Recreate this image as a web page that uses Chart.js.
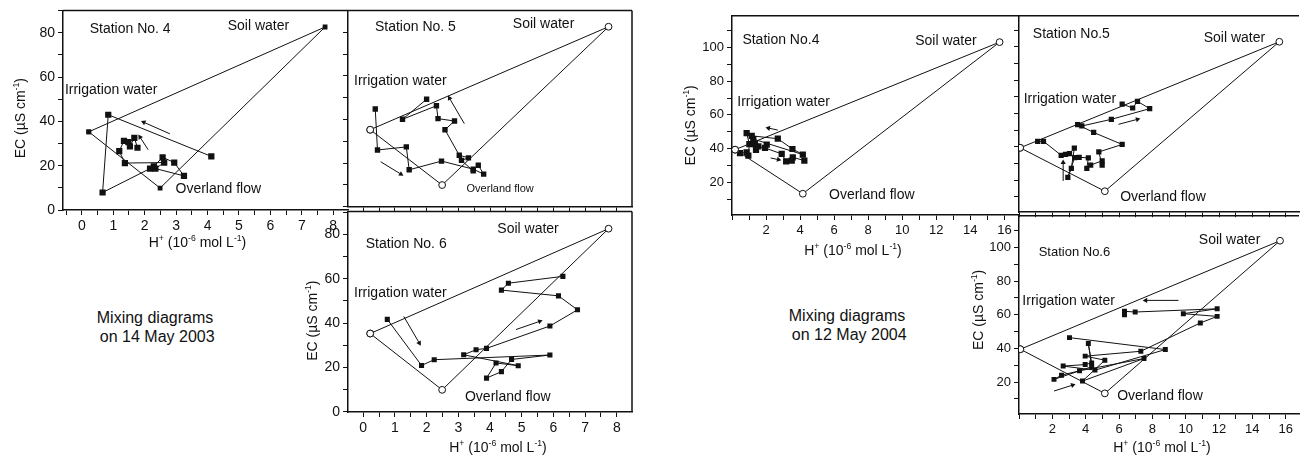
<!DOCTYPE html>
<html lang="en">
<head>
<meta charset="UTF-8">
<title>Mixing diagrams, stations 4-6</title>
<style>
  html, body { margin: 0; padding: 0; background: #fff; overflow: hidden; }
  body { width: 1304px; height: 458px; position: relative; font-family: "Liberation Sans", Arial, sans-serif; }
  canvas { position: absolute; }
  .note { position: absolute; width: 220px; font-size: 16px; line-height: 19px; text-align: center; color: #111; }
</style>
</head>
<body>
<canvas id="s4_2003"></canvas>
<canvas id="s5_2003"></canvas>
<canvas id="s6_2003"></canvas>
<canvas id="s4_2004"></canvas>
<canvas id="s5_2004"></canvas>
<canvas id="s6_2004"></canvas>
<div class="note" style="left:45px; top:308px;">Mixing diagrams<br>&nbsp;on 14 May 2003</div>
<div class="note" style="left:737px; top:306px;">Mixing diagrams<br>&nbsp;on 12 May 2004</div>

<script src="https://cdn.jsdelivr.net/npm/chart.js@4/dist/chart.umd.min.js"></script>
<script>
// ---- data: H+ (10^-6 mol/L) and EC (uS/cm) ----
// end-members, in order: irrigation water, soil water, overland flow
var em2003_h  = [0.22, 7.74, 2.49];
var em2003_ec = [35.3, 82.6, 9.9];

var em2004_s4_h  = [0.18, 15.72, 4.16];
var em2004_s4_ec = [39.4, 103.1, 13.3];
var em2004_s5_h  = [0.07, 15.62, 5.15];
var em2004_s5_ec = [39.4, 103.1, 13.3];
var em2004_s6_h  = [0.08, 15.66, 5.15];
var em2004_s6_ec = [39.5, 103.9, 13.3];

// stream samples, 14 May 2003
var s4_2003_h  = [4.12, 0.84, 0.66, 2.17, 2.29, 2.57, 2.94, 3.25, 2.34, 2.62, 1.37, 1.19, 1.34, 1.48, 1.53, 1.67, 1.77];
var s4_2003_ec = [24.2, 43.0, 7.9, 18.7, 19.7, 23.8, 21.4, 15.4, 18.7, 21.4, 21.2, 26.6, 31.2, 30.6, 28.7, 32.6, 28.1];

var s5_2003_h  = [0.38, 0.45, 1.36, 1.45, 2.47, 3.47, 3.80, 3.63, 3.47, 3.10, 3.32, 3.03, 2.58, 2.88, 2.36, 2.31, 1.24, 2.00];
var s5_2003_ec = [44.8, 26.0, 27.4, 16.9, 20.9, 17.2, 14.9, 19.0, 16.4, 21.2, 22.4, 23.6, 35.3, 39.3, 40.4, 46.3, 40.1, 49.3];

var s6_2003_h  = [0.76, 1.84, 2.24, 5.89, 4.68, 4.36, 3.89, 4.19, 4.89, 3.17, 3.56, 3.89, 5.89, 6.76, 6.16, 4.36, 4.58, 6.30];
var s6_2003_ec = [41.7, 20.9, 23.5, 25.6, 23.6, 18.1, 15.2, 22.0, 20.8, 25.7, 28.0, 28.6, 38.7, 46.0, 52.3, 54.9, 58.0, 61.1];

// stream samples, 12 May 2004
var s4_2004_h  = [0.47, 0.86, 0.96, 1.02, 0.86, 1.16, 2.69, 3.55, 4.16, 1.25, 1.35, 1.55, 1.41, 2.04, 1.94, 2.92, 3.18, 3.51, 3.57, 4.25];
var s4_2004_ec = [37.3, 37.8, 35.9, 42.7, 49.2, 47.6, 45.9, 39.8, 36.5, 45.7, 42.7, 41.4, 39.2, 42.4, 40.4, 36.9, 32.4, 32.9, 34.9, 32.9];

var s5_2004_h  = [1.12, 1.47, 2.53, 2.79, 3.03, 3.32, 3.14, 2.93, 3.34, 3.61, 4.16, 4.07, 4.30, 4.99, 4.99, 4.79, 6.19, 4.48, 3.52, 3.77, 5.54, 7.84, 7.11, 6.82, 6.19];
var s5_2004_ec = [43.3, 43.3, 34.9, 35.5, 35.9, 39.2, 27.1, 21.6, 33.5, 33.7, 33.3, 27.1, 29.0, 31.6, 29.0, 36.9, 41.4, 48.6, 53.3, 52.5, 56.5, 62.9, 67.3, 63.3, 65.7];

var s6_2004_h  = [3.03, 8.78, 4.56, 2.65, 3.97, 4.36, 4.16, 4.36, 2.10, 2.55, 3.63, 7.50, 3.81, 5.15, 3.97, 7.31, 10.88, 11.89, 9.86, 11.89, 6.97, 6.33, 6.33];
var s6_2004_ec = [46.4, 39.3, 27.1, 29.5, 30.4, 31.4, 42.9, 29.1, 21.6, 24.1, 26.7, 34.0, 20.6, 33.0, 35.4, 38.3, 55.1, 59.0, 60.6, 63.5, 61.6, 62.0, 60.0];

// flow-direction arrows: [h from, ec from, h to, ec to]
var arrows_s4_2003 = [[2.80, 34.4, 1.97, 39.6], [2.11, 27.2, 1.85, 32.9]];
var arrows_s5_2003 = [[3.19, 38.1, 2.72, 49.8], [0.55, 20.6, 1.19, 14.9]];
var arrows_s6_2003 = [[1.28, 43.0, 1.77, 31.0], [4.82, 37.1, 5.57, 40.8]];
var arrows_s4_2004 = [[2.69, 51.0, 2.14, 52.2], [2.27, 34.5, 2.73, 33.5]];
var arrows_s5_2004 = [[5.97, 53.5, 7.11, 56.5], [2.65, 19.5, 2.65, 30.5]];
var arrows_s6_2004 = [[9.57, 68.5, 7.60, 68.5], [2.10, 14.7, 3.22, 18.2]];

// tick labels
var h_labels_2003  = [0, 1, 2, 3, 4, 5, 6, 7, 8];
var ec_labels_2003 = [0, 20, 40, 60, 80];
var h_labels_2004  = [2, 4, 6, 8, 10, 12, 14, 16];
var ec_labels_2004 = [20, 40, 60, 80, 100];

// ---- drawing ----
var FONT = "'Liberation Sans', Arial, Helvetica, sans-serif";
var INK = '#111';
Chart.defaults.font.family = FONT;
Chart.defaults.color = INK;

function pts(xs, ys) {
    return xs.map(function (x, i) { return { x: x, y: ys[i] }; });
}

// every multiple of step inside [min, max]
function tickValues(min, max, step) {
    var out = [];
    for (var k = Math.ceil(min / step - 1e-9); k * step <= max + 1e-9; k++) {
        out.push(Math.round(k * step * 1000) / 1000);
    }
    return out;
}

// point the arrow head along its segment, in pixel space
function arrowAngle(c) {
    var ch = c.chart, d = c.dataset && c.dataset.data;
    if (!d || !ch.scales || !ch.scales.x || !ch.scales.y) return 0;
    var dx = ch.scales.x.getPixelForValue(d[1].x) - ch.scales.x.getPixelForValue(d[0].x);
    var dy = ch.scales.y.getPixelForValue(d[1].y) - ch.scales.y.getPixelForValue(d[0].y);
    return Math.atan2(dx, -dy) * 180 / Math.PI;
}

var X_TITLE = [{ t: 'H' }, { t: '+', sup: 1 }, { t: ' (10' }, { t: '-6', sup: 1 }, { t: ' mol L' }, { t: '-1', sup: 1 }, { t: ')' }];
var Y_TITLE = [{ t: 'EC (' }, { t: '\u00B5S cm' }, { t: '-1', sup: 1 }, { t: ')' }];

function drawRich(ctx, parts, cx, cy, size, vertical) {
    ctx.save();
    ctx.translate(cx, cy);
    if (vertical) ctx.rotate(-Math.PI / 2);
    var total = 0;
    parts.forEach(function (p) {
        ctx.font = (p.sup ? size * 0.62 : size) + 'px ' + FONT;
        total += ctx.measureText(p.t).width;
    });
    var x = -total / 2;
    ctx.textAlign = 'left';
    ctx.textBaseline = 'alphabetic';
    ctx.fillStyle = INK;
    parts.forEach(function (p) {
        ctx.font = (p.sup ? size * 0.62 : size) + 'px ' + FONT;
        ctx.fillText(p.t, x, size * 0.36 - (p.sup ? size * 0.42 : 0));
        x += ctx.measureText(p.t).width;
    });
    ctx.restore();
}

// frame lines, in-plot labels and axis titles
var panelDecor = {
    id: 'panelDecor',
    afterDraw: function (chart, args, o) {
        var ctx = chart.ctx, a = chart.chartArea;
        var sx = chart.scales.x, sy = chart.scales.y;
        ctx.save();
        ctx.strokeStyle = INK;
        ctx.lineWidth = 1.5;
        ctx.beginPath();
        ctx.moveTo(a.left, a.top);
        ctx.lineTo(a.right, a.top);
        if (o.right) {
            ctx.moveTo(a.right, a.top);
            ctx.lineTo(a.right, a.bottom);
        }
        ctx.stroke();
        ctx.fillStyle = INK;
        ctx.textAlign = 'left';
        ctx.textBaseline = 'middle';
        (o.notes || []).forEach(function (n) {
            ctx.font = n[3] + 'px ' + FONT;
            ctx.fillText(n[0], sx.getPixelForValue(n[1]), sy.getPixelForValue(n[2]));
        });
        if (o.xTitle) drawRich(ctx, X_TITLE, (a.left + a.right) / 2 + o.xTitle[0], a.bottom + o.xTitle[1], 14, false);
        if (o.yTitle) drawRich(ctx, Y_TITLE, a.left - o.yTitle[0], (a.top + a.bottom) / 2 + o.yTitle[1], 14, true);
        ctx.restore();
    }
};

function axis(min, max, step, labels, pad, horizontal, fontSize) {
    return {
        type: 'linear',
        min: min,
        max: max,
        afterBuildTicks: function (ax) {
            ax.ticks = tickValues(min, max, step).map(function (v) { return { value: v }; });
        },
        afterFit: function (ax) {
            if (horizontal) ax.height = pad; else ax.width = pad;
        },
        ticks: {
            autoSkip: false,
            maxRotation: 0,
            minRotation: 0,
            padding: 3,
            color: INK,
            font: { size: fontSize },
            callback: function (v) {
                for (var i = 0; i < labels.length; i++) {
                    if (Math.abs(labels[i] - v) < 1e-6) return String(labels[i]);
                }
                return '';
            }
        },
        grid: { display: true, drawOnChartArea: false, drawTicks: true, tickLength: 5, tickColor: INK, tickWidth: 1 },
        border: { display: true, color: INK, width: 1.5 }
    };
}

function panel(id, box, p) {
    var cv = document.getElementById(id);
    var w = box[2] - box[0] + p.padL + p.padR;
    var h = box[3] - box[1] + p.padT + p.padB;
    cv.width = w;
    cv.height = h;
    cv.style.width = w + 'px';
    cv.style.height = h + 'px';
    cv.style.left = (box[0] - p.padL) + 'px';
    cv.style.top = (box[1] - p.padT) + 'px';

    var datasets = [{
        data: pts(p.emH.concat([p.emH[0]]), p.emEC.concat([p.emEC[0]])),
        showLine: true,
        borderColor: INK,
        borderWidth: 1,
        pointStyle: p.open ? 'circle' : 'rect',
        pointRadius: 3.4,
        pointBackgroundColor: p.open ? '#fff' : INK,
        pointBorderColor: INK,
        pointBorderWidth: p.open ? 1 : 0
    }, {
        data: pts(p.h, p.ec),
        showLine: true,
        borderColor: INK,
        borderWidth: 1,
        pointStyle: 'rect',
        pointRadius: p.r,
        pointBackgroundColor: INK,
        pointBorderWidth: 0
    }];
    p.arrows.forEach(function (a) {
        datasets.push({
            data: [{ x: a[0], y: a[1] }, { x: a[2], y: a[3] }],
            showLine: true,
            borderColor: INK,
            borderWidth: 1,
            pointStyle: 'triangle',
            pointRadius: [0, 3],
            pointRotation: arrowAngle,
            pointBackgroundColor: INK,
            pointBorderWidth: 0
        });
    });

    return new Chart(cv, {
        type: 'scatter',
        data: { datasets: datasets },
        plugins: [panelDecor],
        options: {
            responsive: false,
            devicePixelRatio: 1,
            animation: false,
            events: [],
            layout: { padding: { top: p.padT, right: p.padR, left: 0, bottom: 0 } },
            plugins: {
                legend: { display: false },
                tooltip: { enabled: false },
                panelDecor: { notes: p.notes, right: p.right, xTitle: p.xTitle, yTitle: p.yTitle }
            },
            scales: {
                x: axis(p.x[0], p.x[1], p.xStep, p.xLabels, p.padB, true, p.font),
                y: axis(p.y[0], p.y[1], p.yStep, p.yLabels, p.padL, false, p.font)
            }
        }
    });
}

// 14 May 2003
panel('s4_2003', [63, 9, 348, 210], {
    emH: em2003_h, emEC: em2003_ec, open: false,
    h: s4_2003_h, ec: s4_2003_ec, r: 4.4, arrows: arrows_s4_2003,
    x: [-0.6, 8.47], xStep: 0.5, xLabels: h_labels_2003,
    y: [0, 90.1], yStep: 10, yLabels: ec_labels_2003,
    padL: 60, padR: 12, padT: 10, padB: 46, font: 14, right: false,
    xTitle: [-8, 32], yTitle: [43, 8],
    notes: [['Station No. 4', 0.25, 81.5, 14], ['Soil water', 4.64, 83, 14],
            ['Irrigation water', -0.54, 54, 14], ['Overland flow', 2.98, 9.3, 14]]
});

panel('s5_2003', [348, 9, 632, 210], {
    emH: em2003_h, emEC: em2003_ec, open: true,
    h: s5_2003_h, ec: s5_2003_ec, r: 3.8, arrows: arrows_s5_2003,
    x: [-0.48, 8.48], xStep: 0.5, xLabels: [],
    y: [0, 90.1], yStep: 10, yLabels: [],
    padL: 8, padR: 8, padT: 10, padB: 8, font: 14, right: true,
    notes: [['Station No. 5', 0.37, 82.2, 14], ['Soil water', 4.72, 84, 14],
            ['Irrigation water', -0.29, 57.8, 14], ['Overland flow', 3.26, 7.9, 11]]
});

panel('s6_2003', [348, 210, 632, 412], {
    emH: em2003_h, emEC: em2003_ec, open: true,
    h: s6_2003_h, ec: s6_2003_ec, r: 3.6, arrows: arrows_s6_2003,
    x: [-0.48, 8.48], xStep: 0.5, xLabels: h_labels_2003,
    y: [-0.1, 90.4], yStep: 10, yLabels: ec_labels_2003,
    padL: 56, padR: 12, padT: 10, padB: 46, font: 14, right: true,
    xTitle: [8, 35], yTitle: [36, 9],
    notes: [['Station No. 6', 0.08, 75.5, 14], ['Soil water', 4.23, 82.2, 14],
            ['Irrigation water', -0.29, 53.5, 14], ['Overland flow', 3.21, 6.7, 14]]
});

// 12 May 2004
panel('s4_2004', [732, 15, 1018, 215], {
    emH: em2004_s4_h, emEC: em2004_s4_ec, open: true,
    h: s4_2004_h, ec: s4_2004_ec, r: 4.4, arrows: arrows_s4_2004,
    x: [0, 16.8], xStep: 1, xLabels: h_labels_2004,
    y: [0.7, 118.7], yStep: 10, yLabels: ec_labels_2004,
    padL: 60, padR: 12, padT: 10, padB: 46, font: 13, right: false,
    xTitle: [-22, 35], yTitle: [42, 10],
    notes: [['Station No.4', 0.61, 104.5, 14], ['Soil water', 10.76, 103.5, 14],
            ['Irrigation water', 0.31, 67.8, 14], ['Overland flow', 5.7, 12.4, 14]]
});

panel('s5_2004', [1019, 15, 1304, 215], {
    emH: em2004_s5_h, emEC: em2004_s5_ec, open: true,
    h: s5_2004_h, ec: s5_2004_ec, r: 3.7, arrows: arrows_s5_2004,
    x: [0, 16.8], xStep: 1, xLabels: [],
    y: [0.7, 118.7], yStep: 10, yLabels: [],
    padL: 8, padR: 0, padT: 10, padB: 8, font: 13, right: false,
    notes: [['Station No.5', 0.83, 107.5, 14], ['Soil water', 11.08, 105.1, 14],
            ['Irrigation water', 0.28, 68.8, 14], ['Overland flow', 6.07, 9.8, 14]]
});

panel('s6_2004', [1019, 215, 1304, 414], {
    emH: em2004_s6_h, emEC: em2004_s6_ec, open: true,
    h: s6_2004_h, ec: s6_2004_ec, r: 3.5, arrows: arrows_s6_2004,
    x: [0, 16.8], xStep: 1, xLabels: h_labels_2004,
    y: [1.06, 118.7], yStep: 10, yLabels: ec_labels_2004,
    padL: 56, padR: 0, padT: 10, padB: 44, font: 13, right: false,
    xTitle: [3, 33], yTitle: [41, -5],
    notes: [['Station No.6', 1.18, 97, 13], ['Soil water', 10.79, 104.3, 14],
            ['Irrigation water', 0.2, 67.9, 14], ['Overland flow', 5.89, 11.9, 14]]
});
</script>
</body>
</html>
